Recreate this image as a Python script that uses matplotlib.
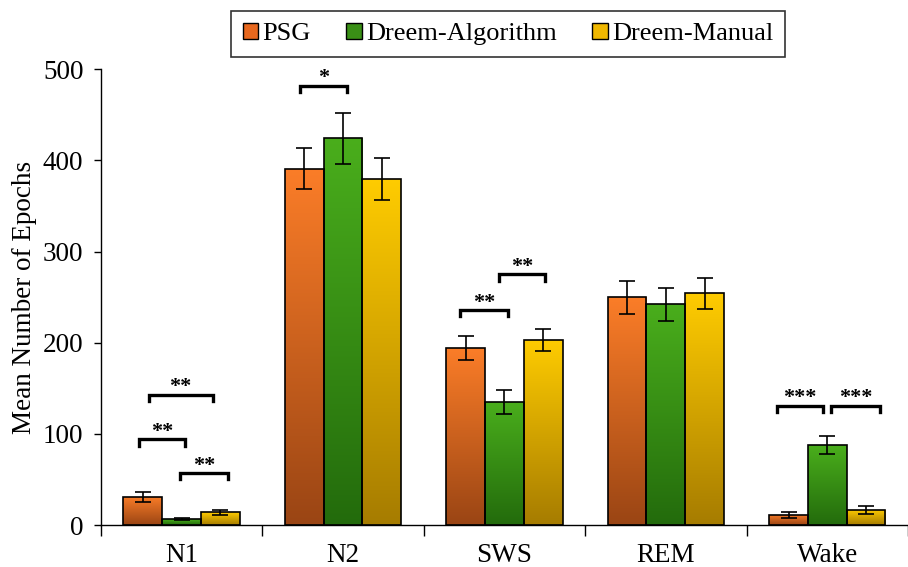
import numpy as np
import matplotlib
matplotlib.use("Agg")
import matplotlib.pyplot as plt
import matplotlib.patches as patches
from matplotlib.colors import LinearSegmentedColormap

plt.rcParams['font.family'] = ['Liberation Serif', 'DejaVu Serif']

stages = ["N1", "N2", "SWS", "REM", "Wake"]
series = ["PSG", "Dreem-Algorithm", "Dreem-Manual"]

psg = [31, 391, 194, 250, 11]
psg_err = [5.5, 22, 13, 18, 3]
algo = [6.5, 424, 135, 242, 87.5]
algo_err = [1.5, 28, 13, 18, 10]
manual = [14, 380, 203, 254, 16.5]
manual_err = [2.5, 23, 12, 17, 4]

# significance brackets: (stage index, bar a, bar b, height, label)
sig_stage = [0, 0, 0, 1, 2, 2, 4, 4]
sig_from = [0, 0, 1, 0, 0, 1, 0, 1]
sig_to = [2, 1, 2, 1, 1, 2, 1, 2]
sig_height = [143, 94, 57, 482, 236, 275, 131, 131]
sig_label = ["**", "**", "**", "*", "**", "**", "***", "***"]
# nudges of bracket ends, in bar widths
sig_pad_a = [0.15, -0.1, -0.05, -0.1, -0.15, -0.15, -0.3, 0.1]
sig_pad_b = [-0.2, 0.1, 0.2, 0.1, 0.1, 0.05, -0.1, 0.35]

top_colors = ["#FB7D28", "#4AAE1C", "#FFCC00"]
bottom_colors = ["#9A4514", "#236B0C", "#A67C00"]
legend_colors = ["#E8681E", "#3A9016", "#F0B800"]

values = [psg, algo, manual]
errors = [psg_err, algo_err, manual_err]

fig = plt.figure(figsize=(9.08, 5.67), dpi=100)
ax = fig.add_axes([0.111, 0.074, 0.889, 0.804])

width = 0.24
x = np.arange(len(stages))
grad = np.linspace(0, 1, 256).reshape(-1, 1)

for i in range(3):
    cmap = LinearSegmentedColormap.from_list("g%d" % i, [bottom_colors[i], top_colors[i]])
    pos = x + (i - 1) * width
    bars = ax.bar(pos, values[i], width, facecolor="none", edgecolor="black",
                  linewidth=1.2, zorder=3)
    for b in bars:
        bx, by = b.get_x(), b.get_y()
        bw, bh = b.get_width(), b.get_height()
        im = ax.imshow(grad, extent=[bx, bx + bw, by, by + bh], origin="lower",
                       aspect="auto", cmap=cmap, zorder=2)
        im.set_clip_path(b)
    ax.errorbar(pos, values[i], yerr=errors[i], fmt="none", ecolor="black",
                elinewidth=1.2, capsize=6, capthick=1.2, zorder=4)

# significance brackets
leg = 7
for s, a, b, h, lab, pa, pb in zip(sig_stage, sig_from, sig_to, sig_height,
                                   sig_label, sig_pad_a, sig_pad_b):
    xa = s + (a - 1 + pa) * width
    xb = s + (b - 1 + pb) * width
    ax.plot([xa, xa, xb, xb], [h - leg, h, h, h - leg], color="black",
            linewidth=2.4, solid_joinstyle="miter", zorder=5)
    ax.text((xa + xb) / 2, h - 3, lab, ha="center", va="bottom",
            fontsize=16, fontweight="bold", zorder=5)

ax.set_xlim(-0.5, 4.45)
ax.set_ylim(0, 500)
ax.set_yticks([0, 100, 200, 300, 400, 500])
ax.tick_params(axis="y", direction="out", length=5, labelsize=19.5, width=1, pad=7.5)
ax.set_xticks(np.arange(-0.5, 5, 1))
ax.set_xticklabels([])
ax.tick_params(axis="x", which="major", direction="out", length=8, width=1)
ax.set_xticks(x, minor=True)
ax.set_xticklabels(stages, minor=True)
ax.tick_params(axis="x", which="minor", length=0, labelsize=19.5, pad=13)
ax.set_ylabel("Mean Number of Epochs", fontsize=19.5, labelpad=4)

for side in ["top", "right"]:
    ax.spines[side].set_visible(False)
ax.spines["left"].set_linewidth(1)
ax.spines["bottom"].set_linewidth(1)

handles = [patches.Patch(facecolor=c, edgecolor="black", linewidth=1) for c in legend_colors]
lg = fig.legend(handles, series, loc="upper center", bbox_to_anchor=(0.5595, 0.981),
                ncol=3, fontsize=19, frameon=True, fancybox=False, edgecolor="black",
                handlelength=0.6, handleheight=0.6, handletextpad=0.15, columnspacing=1.35,
                borderpad=0.45, borderaxespad=0)
lg.get_frame().set_linewidth(1.2)

fig.savefig("out.png", dpi=100)
